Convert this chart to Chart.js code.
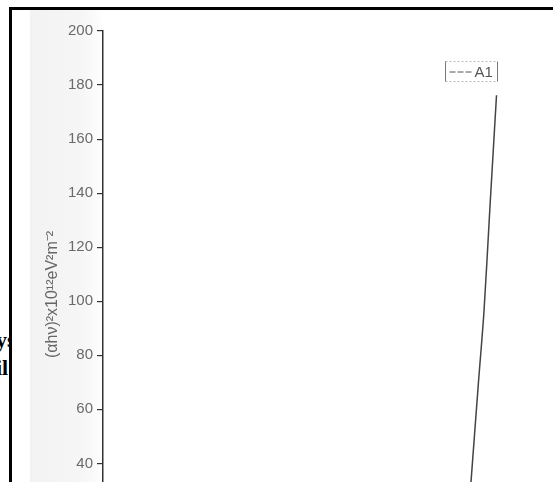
<!DOCTYPE html>
<html>
<head>
<meta charset="utf-8">
<script src="https://cdn.jsdelivr.net/npm/chart.js@4.4.1/dist/chart.umd.min.js"></script>
<style>
  html, body { margin: 0; padding: 0; background: #fff; overflow: hidden; }
  body { width: 553px; height: 482px; position: relative; }
  .strip { position: absolute; left: 30px; top: 10px; width: 75px; height: 472px;
           background: linear-gradient(to right, #f2f2f2 0%, #f6f6f6 70%, #fff 100%); }
  #chart { position: absolute; left: 0; top: 0; }
  .frame { position: absolute; left: 9px; top: 7px; width: 560px; height: 600px;
           border-left: 3px solid #000; border-top: 3px solid #000; }
  .side { position: absolute; left: -4px; font: bold 22px "Liberation Serif", "DejaVu Serif", serif;
          color: #000; line-height: 1; white-space: nowrap; }
  .cut { position: absolute; left: 0; top: 0; width: 10px; height: 482px; overflow: hidden; }
</style>
</head>
<body>
<div class="cut">
  <div class="side" style="top:329px">ys</div>
  <div class="side" style="top:357px">il</div>
</div>
<div class="strip"></div>
<canvas id="chart" width="553" height="580"></canvas>
<div class="frame"></div>
<script>
// photon energy (eV) and (alpha h nu)^2
const energy = [3.184, 3.218, 3.244, 3.271, 3.301];
const alphaHv2 = [33, 69.6, 96.7, 135, 176.2];
const seriesName = 'A1';
const yTicks = [40, 60, 80, 100, 120, 140, 160, 180, 200];

const axisColor = '#333';
const labelColor = '#6a6a6a';

// small boxed legend like in the scan
const boxLegend = {
    id: 'boxLegend',
    afterDraw(chart) {
        const ctx = chart.ctx;
        const ds = chart.data.datasets[0];
        const x = 445.5, y = 61.5, w = 52, h = 20;
        ctx.save();
        ctx.strokeStyle = '#bbb';
        ctx.lineWidth = 1;
        ctx.setLineDash([2, 2]);
        ctx.beginPath();
        ctx.moveTo(x, y); ctx.lineTo(x + w, y);
        ctx.moveTo(x, y + h); ctx.lineTo(x + w, y + h);
        ctx.stroke();
        ctx.setLineDash([]);
        ctx.strokeStyle = '#777';
        ctx.beginPath();
        ctx.moveTo(x, y); ctx.lineTo(x, y + h);
        ctx.moveTo(x + w, y); ctx.lineTo(x + w, y + h);
        ctx.stroke();
        ctx.strokeStyle = '#555';
        ctx.setLineDash([6, 2]);
        ctx.beginPath();
        ctx.moveTo(x + 4, y + 10.5); ctx.lineTo(x + 27, y + 10.5);
        ctx.stroke();
        ctx.setLineDash([]);
        ctx.fillStyle = '#555';
        ctx.font = '15px "Liberation Sans", Arial, sans-serif';
        ctx.textBaseline = 'middle';
        ctx.fillText(ds.label, x + 29, y + 11);
        ctx.restore();
    }
};

const ctx = document.getElementById('chart').getContext('2d');
new Chart(ctx, {
    type: 'scatter',
    data: {
        datasets: [{
            label: seriesName,
            data: energy.map((e, i) => ({ x: e, y: alphaHv2[i] })),
            showLine: true,
            borderColor: '#444',
            borderWidth: 1.5,
            pointRadius: 0,
            tension: 0.3,
            fill: false
        }]
    },
    options: {
        responsive: false,
        animation: false,
        devicePixelRatio: 1,
        layout: { padding: { top: 31, right: 13, bottom: 22, left: 0 } },
        plugins: {
            legend: { display: false },
            tooltip: { enabled: false }
        },
        scales: {
            x: {
                type: 'linear',
                display: false,
                min: 1.5,
                max: 3.5
            },
            y: {
                type: 'linear',
                min: 5,
                max: 200,
                afterFit(scale) { scale.width = 103; },
                afterBuildTicks(scale) {
                    scale.ticks = yTicks.map(v => ({ value: v }));
                },
                border: { display: true, color: axisColor, width: 1.5 },
                grid: { display: true, drawOnChartArea: false, drawTicks: true,
                        tickLength: 6, color: axisColor, lineWidth: 1.2 },
                ticks: {
                    color: labelColor,
                    padding: 4,
                    font: { family: '"Liberation Sans", Arial, sans-serif', size: 15 }
                },
                title: {
                    display: true,
                    text: '(\u03B1h\u03BD)\u00B2x10\u00B9\u00B2eV\u00B2m\u207B\u00B2',
                    color: '#666',
                    padding: { top: 43, bottom: 0 },
                    font: { family: '"Liberation Sans", Arial, sans-serif', size: 16 }
                }
            }
        }
    },
    plugins: [boxLegend]
});
</script>
</body>
</html>
